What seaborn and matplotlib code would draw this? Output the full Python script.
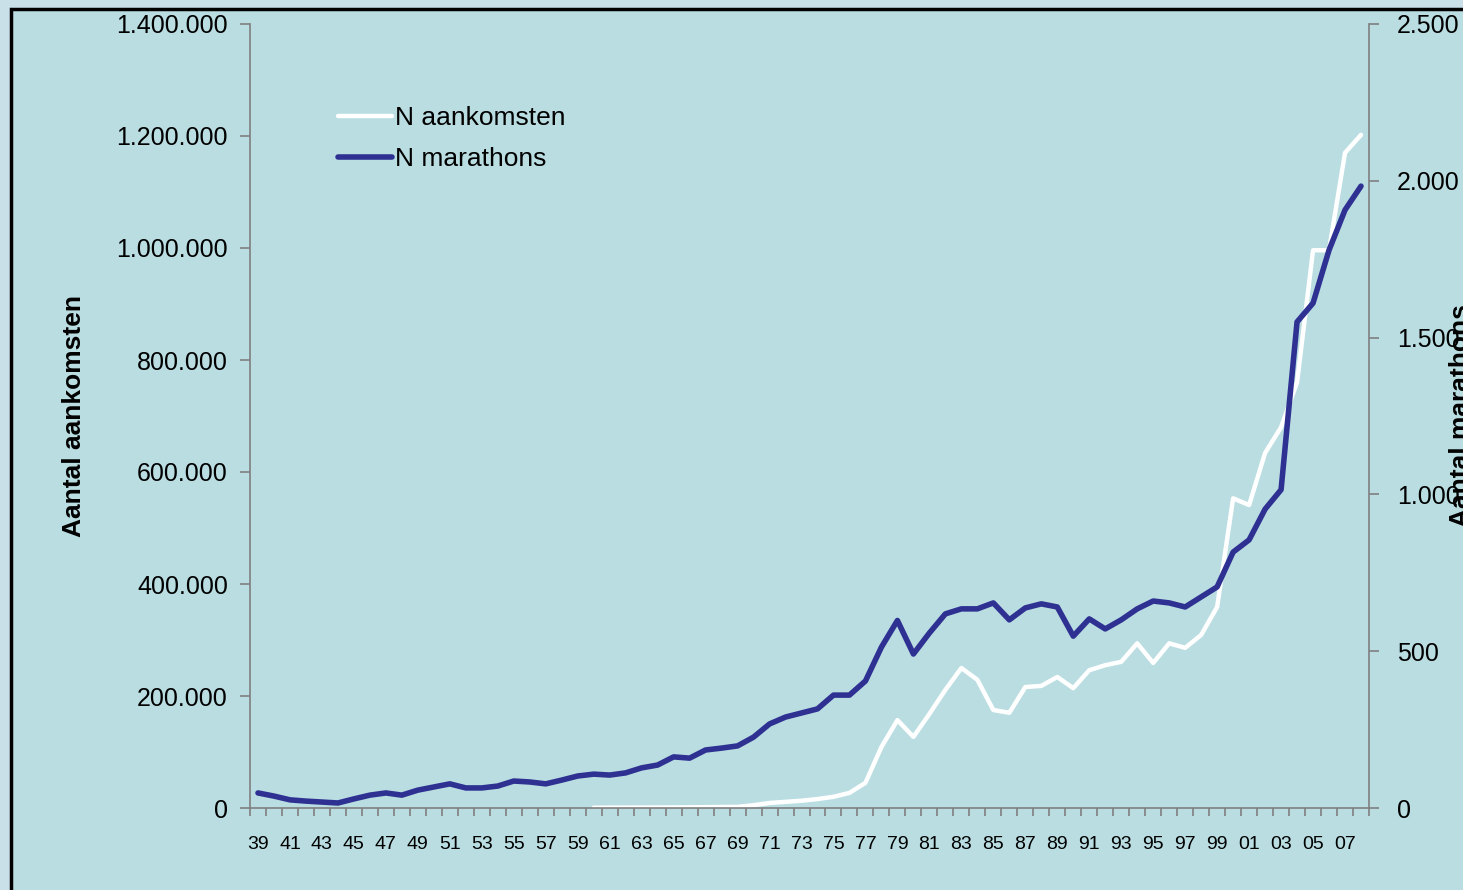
import numpy as np
import pandas as pd
import seaborn as sns
import matplotlib.pyplot as plt
from matplotlib.patches import Rectangle
from matplotlib.ticker import FuncFormatter

# Data
years = list(range(1939, 2009))
year_labels = [str(y)[2:] for y in years]

marathons = [48, 38, 26, 22, 19, 16, 29, 41, 48, 41,
             57, 67, 77, 64, 64, 70, 86, 83, 77, 89,
             102, 108, 105, 112, 128, 137, 163, 159, 185, 191,
             198, 226, 268, 290, 303, 316, 360, 360, 405, 513,
             598, 491, 558, 619, 635, 635, 654, 600, 638, 651,
             641, 548, 603, 571, 600, 635, 660, 654, 641, 673,
             705, 816, 855, 953, 1015, 1550, 1610, 1779, 1907, 1983]

# no arrivals data before 1960
aankomsten = [None] * 21 + [
    500, 600, 700, 800, 900, 1000, 1200, 1500, 1800, 2000,
    5000, 9000, 11000, 13000, 16000, 20000, 27000, 45000, 109000, 157000, 127000,
    168000, 211000, 250000, 229000, 175000, 170000, 216000, 218000, 234000, 214000,
    246000, 255000, 261000, 294000, 259000, 294000, 286000, 309000, 359000, 553000,
    541000, 634000, 680000, 760000, 996000, 996000, 1170000, 1202000]

df = pd.DataFrame({'idx': np.arange(len(years)), 'year': years,
                   'aankomsten': pd.to_numeric(pd.Series(aankomsten), errors='coerce'),
                   'marathons': marathons})

plt.rcParams['font.family'] = ['Liberation Sans', 'DejaVu Sans']

W, H = 1463, 890
fig = plt.figure(figsize=(W / 100, H / 100), dpi=100)
fig.patch.set_facecolor('#C9E0E9')
# inner panel with black border (cut off at right/bottom)
fig.patches.append(Rectangle((11 / W, -0.1), 1.2, 1 - 9 / H + 0.1, transform=fig.transFigure,
                             facecolor='#B9DDE1', edgecolor='black', linewidth=2.5, zorder=-10))

ax = fig.add_axes([250 / W, 82 / H, (1369 - 250) / W, (808 - 24) / H])
ax.patch.set_alpha(0)
ax2 = ax.twinx()
ax2.patch.set_alpha(0)

sns.lineplot(data=df.dropna(subset=['aankomsten']), x='idx', y='aankomsten', ax=ax,
             color='white', linewidth=3.2, solid_joinstyle='round', solid_capstyle='round')
sns.lineplot(data=df, x='idx', y='marathons', ax=ax2,
             color='#2E3192', linewidth=4, solid_joinstyle='round', solid_capstyle='round')

ax.set_xlim(-0.5, len(years) - 0.5)
ax.set_ylim(0, 1400000)
ax2.set_ylim(0, 2500)

ax.set_yticks(np.arange(0, 1400001, 200000))
ax2.set_yticks(np.arange(0, 2501, 500))
fmt = FuncFormatter(lambda v, p: f"{int(v):,}".replace(',', '.'))
ax.yaxis.set_major_formatter(fmt)
ax2.yaxis.set_major_formatter(fmt)

ax.set_xticks(np.arange(0, len(years), 2))
ax.set_xticklabels(year_labels[::2])
ax.set_xticks(np.arange(-0.5, len(years), 1), minor=True)

gray = '#808080'
for a in (ax, ax2):
    for s in a.spines.values():
        s.set_color(gray)
        s.set_linewidth(1.2)
    a.spines['top'].set_visible(False)
ax.spines['right'].set_visible(False)
ax2.spines['left'].set_visible(False)
ax2.spines['bottom'].set_visible(False)

ax.tick_params(axis='y', direction='out', length=7, width=1.2, color=gray, labelsize=18, pad=9)
ax2.tick_params(axis='y', direction='out', length=7, width=1.2, color=gray, labelsize=18, pad=13)
ax.tick_params(axis='x', which='major', length=0, labelsize=14, pad=20)
ax.tick_params(axis='x', which='minor', direction='out', length=6, width=1.2, color=gray)

ax.set_xlabel('')
ax.set_ylabel('Aantal aankomsten', fontsize=19, fontweight='bold')
ax.yaxis.set_label_coords((86 - 250) / 1119, 0.5)
ax2.set_ylabel('')
fig.text(1461 / W, 1 - 416 / H, 'Aantal marathons', rotation=90, fontsize=19,
         fontweight='bold', ha='center', va='center')

h1 = ax.get_lines()[0]
h2 = ax2.get_lines()[0]
ax2.legend([h1, h2], ['N aankomsten', 'N marathons'], loc='upper left',
           bbox_to_anchor=(338 / W, 1 - 106 / H), bbox_transform=fig.transFigure,
           frameon=False, fontsize=19, handlelength=2.05, handletextpad=0.12,
           labelspacing=0.64, borderpad=0, borderaxespad=0)

fig.savefig('out.png', dpi=100, facecolor=fig.get_facecolor())
